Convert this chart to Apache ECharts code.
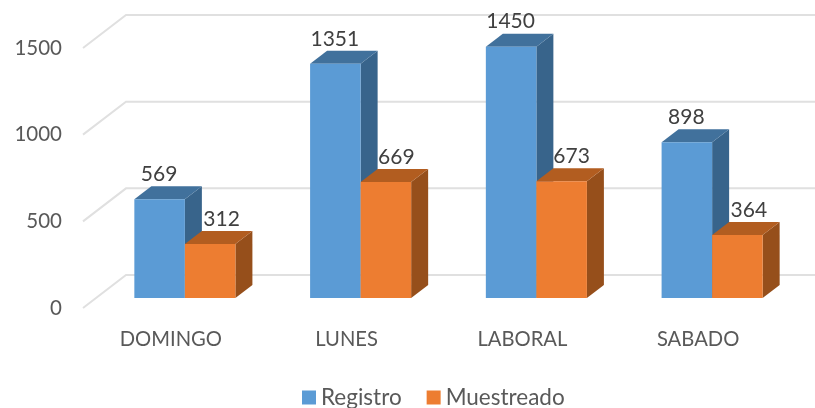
<!DOCTYPE html>
<html>
<head>
	<meta http-equiv="Content-Type" content="text/html; charset=utf-8"/>
	<title>Registro y Muestreado</title>
	<style>
		html, body {
			margin: 0;
			padding: 0;
			background: #ffffff;
		}
		#chart {
			width: 815px;
			height: 408px;
			/* the original is a scaled up screenshot, slightly soft */
			filter: blur(0.4px);
		}
	</style>
	<script src="https://cdn.jsdelivr.net/npm/echarts@6/dist/echarts.min.js"></script>
</head>
<body>
	<div id="chart"></div>
	<script>
		// data
		const categories = ['DOMINGO', 'LUNES', 'LABORAL', 'SABADO'];
		const registro = [569, 1351, 1450, 898];
		const muestreado = [312, 669, 673, 364];
		const ticks = [0, 500, 1000, 1500];

		// 3D look, in pixels from the front plane of the axis
		const wallDepth = {x: 43, y: -33};
		const barShift = {x: 14, y: -10};
		const barDepth = {x: 17, y: -13};
		const barBand = 0.2875;
		const labelFont = 'Lato, sans-serif';
		const textColor = '#595959';
		// orange labels sit to the right, over the depth of the bar
		const orangeLabelShift = [12, 11, 10.5, 12];

		function wallLine(params, api){
			const box = params.coordSys;
			const y = api.coord([0, api.value(0)])[1];
			return {
				type: 'polyline',
				shape: {
					points: [
						[box.x, y],
						[box.x + wallDepth.x, y + wallDepth.y],
						[box.x + box.width + wallDepth.x, y + wallDepth.y]
					]
				},
				style: {fill: null, stroke: '#e0e0e0', lineWidth: 2}
			};
		}

		function bar3d(side, colors){
			return function(params, api){
				const base = api.coord([api.value(0), 0]);
				const top = api.coord([api.value(0), api.value(1)]);
				const w = api.size([1, 0])[0] * barBand;
				const x0 = base[0] + barShift.x + (side < 0 ? -w : 0);
				const x1 = x0 + w;
				const y0 = base[1] + barShift.y;
				const y1 = top[1] + barShift.y;
				const dx = barDepth.x;
				const dy = barDepth.y;
				const shift = side < 0 ? 0 : orangeLabelShift[params.dataIndex];
				return {
					type: 'group',
					children: [
						{
							type: 'polygon',
							shape: {points: [[x1, y0], [x1 + dx, y0 + dy], [x1 + dx, y1 + dy], [x1, y1]]},
							style: {fill: colors.side}
						},
						{
							type: 'polygon',
							shape: {points: [[x0, y1], [x0 + dx, y1 + dy], [x1 + dx, y1 + dy], [x1, y1]]},
							style: {fill: colors.top}
						},
						{
							type: 'rect',
							shape: {x: x0, y: y1, width: w, height: y0 - y1},
							style: {fill: colors.front}
						},
						{
							type: 'text',
							style: {
								x: (x0 + x1) / 2 + shift - 0.5,
								y: y1 - 25,
								text: String(api.value(1)),
								fill: '#404040',
								font: '21px ' + labelFont,
								align: 'center',
								verticalAlign: 'middle'
							}
						}
					]
				};
			};
		}

		let chart = echarts.init(document.getElementById('chart'));
		chart.setOption({
			animation: false,
			grid: {left: 83, right: 29, top: 48, bottom: 100},
			legend: {
				left: 302,
				top: 386,
				padding: 0,
				itemWidth: 14,
				itemHeight: 14,
				itemGap: 25,
				icon: 'rect',
				data: ['Registro', 'Muestreado'],
				textStyle: {color: textColor, fontFamily: labelFont, fontSize: 22.5}
			},
			xAxis: {
				type: 'category',
				data: categories,
				axisLine: {show: false},
				axisTick: {show: false},
				axisLabel: {color: textColor, fontFamily: labelFont, fontSize: 20.2, margin: 21}
			},
			yAxis: {
				type: 'value',
				min: 0,
				max: 1500,
				interval: 500,
				axisLine: {show: false},
				axisTick: {show: false},
				splitLine: {show: false},
				axisLabel: {
					color: textColor,
					fontFamily: labelFont,
					fontSize: 20.5,
					margin: 21,
					formatter: v => String(v)
				}
			},
			series: [
				{
					name: 'wall',
					type: 'custom',
					clip: false,
					silent: true,
					renderItem: wallLine,
					data: ticks.map(v => [v]),
					encode: {y: 0}
				},
				{
					name: 'Registro',
					type: 'custom',
					clip: false,
					itemStyle: {color: '#5b9bd5'},
					renderItem: bar3d(-1, {front: '#5b9bd5', top: '#41719c', side: '#38648b'}),
					data: registro.map((v, i) => [i, v]),
					encode: {x: 0, y: 1}
				},
				{
					name: 'Muestreado',
					type: 'custom',
					clip: false,
					itemStyle: {color: '#ed7d31'},
					renderItem: bar3d(1, {front: '#ed7d31', top: '#b25d20', side: '#964f1b'}),
					data: muestreado.map((v, i) => [i, v]),
					encode: {x: 0, y: 1}
				}
			]
		});
	</script>
</body>
</html>
